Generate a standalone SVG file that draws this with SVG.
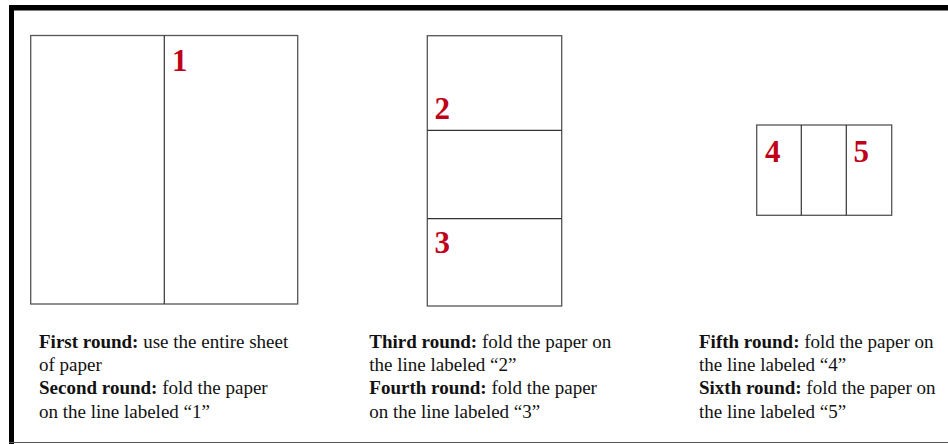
<svg xmlns="http://www.w3.org/2000/svg" width="948" height="444" viewBox="0 0 948 444">
<style>
.box{fill:none;stroke:#555;stroke-width:1.3}
.ln{stroke:#333;stroke-width:1.2}
.num{font-family:"Liberation Serif",serif;font-weight:bold;font-size:31px;fill:#C00018}
.t{font-family:"Liberation Serif",serif;font-size:19px;fill:#111}
.b{font-weight:bold}
</style>
<rect width="948" height="444" fill="#fff"/>
<g id="frame">
<rect x="9" y="5" width="939" height="5.5" fill="#000"/>
<rect x="9" y="5" width="5" height="439" fill="#000"/>
<line x1="9" y1="442.5" x2="948" y2="442.5" stroke="#555" stroke-width="1"/>
</g>
<g id="sheet1">
<rect class="box" x="30.7" y="35.5" width="267" height="268.5"/>
<line class="ln" x1="164.3" y1="35.5" x2="164.3" y2="304"/>
<text class="num" x="172" y="71">1</text>
</g>
<g id="sheet2">
<rect class="box" x="427.3" y="35.7" width="134.4" height="270.3"/>
<line class="ln" x1="427.3" y1="130.3" x2="561.7" y2="130.3"/>
<line class="ln" x1="427.3" y1="218.7" x2="561.7" y2="218.7"/>
<text class="num" x="434.5" y="119">2</text>
<text class="num" x="434.5" y="253.3">3</text>
</g>
<g id="sheet3">
<rect class="box" x="756.7" y="125" width="135" height="90.3"/>
<line class="ln" x1="801.3" y1="125" x2="801.3" y2="215.3"/>
<line class="ln" x1="846.3" y1="125" x2="846.3" y2="215.3"/>
<text class="num" x="765" y="161.7">4</text>
<text class="num" x="853.5" y="161.7">5</text>
</g>
<g id="caption1" class="t">
<text x="39" y="347.7"><tspan class="b">First round:</tspan> use the entire sheet</text>
<text x="39" y="371">of paper</text>
<text x="39" y="394.3"><tspan class="b">Second round:</tspan> fold the paper</text>
<text x="39" y="417.6">on the line labeled “1”</text>
</g>
<g id="caption2" class="t">
<text x="369.3" y="347.7"><tspan class="b">Third round:</tspan> fold the paper on</text>
<text x="369.3" y="371">the line labeled “2”</text>
<text x="369.3" y="394.3"><tspan class="b">Fourth round:</tspan> fold the paper</text>
<text x="369.3" y="417.6">on the line labeled “3”</text>
</g>
<g id="caption3" class="t">
<text x="699" y="347.7"><tspan class="b">Fifth round:</tspan> fold the paper on</text>
<text x="699" y="371">the line labeled “4”</text>
<text x="699" y="394.3"><tspan class="b">Sixth round:</tspan> fold the paper on</text>
<text x="699" y="417.6">the line labeled “5”</text>
</g>
</svg>
